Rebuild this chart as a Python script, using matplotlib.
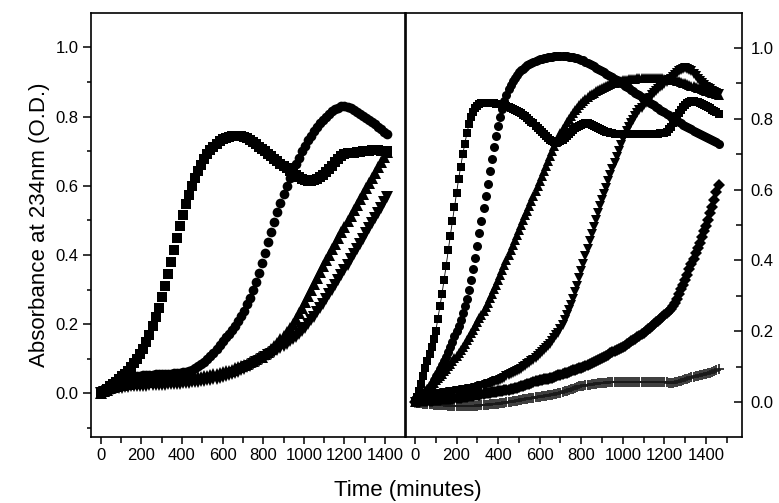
import numpy as np
import matplotlib
matplotlib.use("Agg")
import matplotlib.pyplot as plt
from matplotlib.ticker import MultipleLocator, FormatStrFormatter

plt.rcParams['font.family'] = ['Liberation Sans', 'DejaVu Sans']

# ---------------- left panel: sampled every 15 min ----------------
t_left = np.arange(0, 1425, 15)

left_squares = [
    0.000, 0.006, 0.013, 0.020, 0.027, 0.034, 0.041, 0.049, 0.057, 0.066,
    0.076, 0.087, 0.099, 0.113, 0.129, 0.148, 0.170, 0.194, 0.220, 0.248,
    0.278, 0.310, 0.344, 0.380, 0.415, 0.450, 0.484, 0.516, 0.546, 0.574,
    0.599, 0.622, 0.643, 0.661, 0.677, 0.691, 0.703, 0.713, 0.722, 0.729,
    0.735, 0.739, 0.742, 0.744, 0.745, 0.745, 0.744, 0.742, 0.738, 0.733,
    0.727, 0.720, 0.713, 0.706, 0.699, 0.692, 0.685, 0.678, 0.671, 0.664,
    0.657, 0.650, 0.643, 0.636, 0.630, 0.624, 0.620, 0.617, 0.615, 0.615,
    0.617, 0.620, 0.625, 0.631, 0.639, 0.648, 0.658, 0.668, 0.678, 0.686,
    0.691, 0.694, 0.695, 0.696, 0.697, 0.698, 0.699, 0.700, 0.701, 0.702,
    0.702, 0.702, 0.701, 0.700, 0.700]

left_circles = [
    0.000, 0.008, 0.015, 0.021, 0.026, 0.031, 0.035, 0.039, 0.042, 0.045,
    0.047, 0.049, 0.050, 0.051, 0.052, 0.053, 0.054, 0.054, 0.055, 0.055,
    0.056, 0.056, 0.057, 0.057, 0.058, 0.059, 0.060, 0.061, 0.063, 0.066,
    0.069, 0.073, 0.078, 0.084, 0.091, 0.099, 0.108, 0.118, 0.129, 0.140,
    0.151, 0.162, 0.173, 0.184, 0.196, 0.209, 0.223, 0.239, 0.257, 0.277,
    0.299, 0.323, 0.349, 0.377, 0.406, 0.436, 0.466, 0.495, 0.523, 0.550,
    0.575, 0.599, 0.621, 0.642, 0.662, 0.681, 0.699, 0.716, 0.731, 0.745,
    0.758, 0.770, 0.781, 0.791, 0.800, 0.808, 0.815, 0.821, 0.826, 0.829,
    0.830, 0.828, 0.824, 0.819, 0.814, 0.808, 0.802, 0.796, 0.790, 0.784,
    0.777, 0.770, 0.763, 0.756, 0.749]

left_tri_up = [
    0.000, 0.006, 0.011, 0.015, 0.018, 0.021, 0.023, 0.025, 0.027, 0.028,
    0.029, 0.030, 0.031, 0.032, 0.033, 0.034, 0.034, 0.035, 0.036, 0.036,
    0.037, 0.038, 0.038, 0.039, 0.040, 0.041, 0.041, 0.042, 0.043, 0.044,
    0.045, 0.046, 0.047, 0.048, 0.050, 0.051, 0.053, 0.055, 0.057, 0.059,
    0.061, 0.064, 0.066, 0.069, 0.072, 0.075, 0.078, 0.082, 0.086, 0.090,
    0.094, 0.099, 0.104, 0.106, 0.113, 0.121, 0.128, 0.137, 0.147, 0.157,
    0.167, 0.177, 0.188, 0.201, 0.215, 0.231, 0.248, 0.265, 0.282, 0.299,
    0.316, 0.333, 0.350, 0.367, 0.384, 0.401, 0.417, 0.433, 0.449, 0.465,
    0.481, 0.497, 0.513, 0.529, 0.545, 0.561, 0.577, 0.593, 0.608, 0.623,
    0.638, 0.653, 0.668, 0.683, 0.698]

left_tri_down = [
    0.000, 0.004, 0.008, 0.011, 0.013, 0.015, 0.016, 0.017, 0.018, 0.019,
    0.020, 0.020, 0.021, 0.021, 0.022, 0.022, 0.023, 0.023, 0.024, 0.024,
    0.025, 0.025, 0.026, 0.026, 0.027, 0.028, 0.028, 0.029, 0.030, 0.031,
    0.032, 0.033, 0.034, 0.035, 0.036, 0.038, 0.039, 0.041, 0.043, 0.045,
    0.047, 0.050, 0.053, 0.056, 0.059, 0.063, 0.067, 0.071, 0.075, 0.080,
    0.085, 0.090, 0.095, 0.100, 0.105, 0.110, 0.115, 0.120, 0.125, 0.131,
    0.137, 0.143, 0.150, 0.157, 0.164, 0.172, 0.181, 0.190, 0.200, 0.211,
    0.222, 0.234, 0.246, 0.259, 0.272, 0.286, 0.300, 0.314, 0.328, 0.342,
    0.357, 0.372, 0.387, 0.402, 0.417, 0.432, 0.447, 0.462, 0.477, 0.492,
    0.507, 0.522, 0.537, 0.552, 0.567]

# ---------------- right panel: sampled every 10 min ----------------
t_right = np.arange(0, 1470, 10)

right_squares = [
    0.000, 0.015, 0.032, 0.052, 0.074, 0.095, 0.115, 0.135, 0.155, 0.177,
    0.200, 0.235, 0.270, 0.305, 0.345, 0.385, 0.428, 0.470, 0.510, 0.550,
    0.590, 0.630, 0.665, 0.700, 0.730, 0.760, 0.785, 0.805, 0.820, 0.830,
    0.837, 0.841, 0.844, 0.845, 0.845, 0.845, 0.845, 0.844, 0.844, 0.843,
    0.843, 0.842, 0.840, 0.838, 0.836, 0.834, 0.832, 0.829, 0.826, 0.823,
    0.820, 0.816, 0.812, 0.807, 0.802, 0.797, 0.792, 0.787, 0.781, 0.775,
    0.769, 0.763, 0.757, 0.751, 0.746, 0.741, 0.737, 0.734, 0.733, 0.734,
    0.736, 0.740, 0.745, 0.751, 0.757, 0.763, 0.768, 0.773, 0.777, 0.781,
    0.784, 0.786, 0.787, 0.787, 0.786, 0.784, 0.781, 0.778, 0.775, 0.772,
    0.769, 0.766, 0.764, 0.762, 0.760, 0.759, 0.758, 0.757, 0.757, 0.757,
    0.757, 0.757, 0.757, 0.757, 0.757, 0.757, 0.757, 0.757, 0.757, 0.757,
    0.757, 0.757, 0.757, 0.757, 0.757, 0.757, 0.758, 0.758, 0.759, 0.759,
    0.760, 0.764, 0.770, 0.778, 0.787, 0.797, 0.807, 0.817, 0.826, 0.834,
    0.840, 0.845, 0.848, 0.850, 0.850, 0.849, 0.847, 0.845, 0.842, 0.839,
    0.836, 0.833, 0.830, 0.826, 0.822, 0.818, 0.815]

right_circles = [
    0.000, 0.005, 0.010, 0.015, 0.020, 0.025, 0.033, 0.042, 0.052, 0.062,
    0.072, 0.082, 0.093, 0.104, 0.115, 0.127, 0.140, 0.155, 0.170, 0.185,
    0.200, 0.215, 0.232, 0.250, 0.270, 0.292, 0.317, 0.345, 0.375, 0.408,
    0.442, 0.477, 0.512, 0.547, 0.582, 0.617, 0.652, 0.687, 0.720, 0.752,
    0.780, 0.805, 0.828, 0.850, 0.868, 0.883, 0.896, 0.907, 0.916, 0.924,
    0.931, 0.937, 0.942, 0.947, 0.951, 0.955, 0.958, 0.961, 0.964, 0.966,
    0.968, 0.970, 0.972, 0.973, 0.974, 0.975, 0.976, 0.977, 0.977, 0.978,
    0.978, 0.978, 0.977, 0.977, 0.976, 0.975, 0.974, 0.973, 0.971, 0.969,
    0.967, 0.965, 0.962, 0.959, 0.956, 0.952, 0.948, 0.944, 0.940, 0.937,
    0.935, 0.932, 0.928, 0.925, 0.922, 0.918, 0.914, 0.910, 0.906, 0.902,
    0.898, 0.894, 0.890, 0.886, 0.882, 0.878, 0.874, 0.870, 0.866, 0.862,
    0.858, 0.854, 0.850, 0.846, 0.842, 0.838, 0.834, 0.830, 0.826, 0.822,
    0.818, 0.814, 0.810, 0.806, 0.802, 0.798, 0.794, 0.791, 0.787, 0.784,
    0.780, 0.777, 0.774, 0.770, 0.767, 0.764, 0.761, 0.758, 0.755, 0.752,
    0.750, 0.747, 0.744, 0.741, 0.738, 0.734, 0.730]

right_tri_up = [
    0.000, 0.007, 0.013, 0.019, 0.025, 0.031, 0.037, 0.043, 0.049, 0.055,
    0.061, 0.067, 0.073, 0.080, 0.087, 0.094, 0.101, 0.108, 0.115, 0.123,
    0.131, 0.139, 0.147, 0.156, 0.165, 0.174, 0.184, 0.194, 0.204, 0.214,
    0.225, 0.236, 0.247, 0.258, 0.269, 0.281, 0.293, 0.305, 0.318, 0.331,
    0.345, 0.359, 0.373, 0.387, 0.401, 0.415, 0.429, 0.443, 0.457, 0.471,
    0.485, 0.499, 0.513, 0.527, 0.541, 0.555, 0.569, 0.583, 0.597, 0.611,
    0.625, 0.639, 0.653, 0.667, 0.681, 0.695, 0.709, 0.722, 0.735, 0.747,
    0.759, 0.770, 0.781, 0.791, 0.800, 0.809, 0.817, 0.825, 0.832, 0.839,
    0.845, 0.851, 0.856, 0.861, 0.866, 0.870, 0.874, 0.878, 0.882, 0.885,
    0.888, 0.891, 0.894, 0.896, 0.898, 0.900, 0.902, 0.904, 0.906, 0.908,
    0.909, 0.910, 0.911, 0.912, 0.913, 0.914, 0.914, 0.915, 0.915, 0.916,
    0.916, 0.916, 0.916, 0.916, 0.916, 0.916, 0.916, 0.916, 0.915, 0.915,
    0.914, 0.913, 0.912, 0.911, 0.910, 0.909, 0.908, 0.906, 0.904, 0.902,
    0.900, 0.898, 0.896, 0.894, 0.892, 0.890, 0.888, 0.886, 0.884, 0.882,
    0.880, 0.878, 0.876, 0.874, 0.872, 0.870, 0.868]

right_tri_down = [
    0.000, 0.003, 0.006, 0.009, 0.011, 0.013, 0.015, 0.017, 0.018, 0.019,
    0.020, 0.021, 0.022, 0.023, 0.024, 0.025, 0.026, 0.027, 0.028, 0.029,
    0.030, 0.031, 0.032, 0.033, 0.034, 0.035, 0.036, 0.037, 0.038, 0.039,
    0.040, 0.042, 0.044, 0.046, 0.048, 0.050, 0.052, 0.054, 0.056, 0.058,
    0.060, 0.063, 0.066, 0.069, 0.072, 0.075, 0.078, 0.081, 0.084, 0.087,
    0.090, 0.094, 0.098, 0.102, 0.106, 0.110, 0.115, 0.120, 0.125, 0.130,
    0.135, 0.141, 0.147, 0.153, 0.159, 0.165, 0.172, 0.180, 0.188, 0.196,
    0.205, 0.218, 0.232, 0.246, 0.260, 0.275, 0.292, 0.310, 0.329, 0.349,
    0.370, 0.391, 0.412, 0.433, 0.454, 0.475, 0.495, 0.515, 0.535, 0.553,
    0.570, 0.588, 0.606, 0.624, 0.641, 0.658, 0.675, 0.692, 0.709, 0.726,
    0.742, 0.755, 0.767, 0.778, 0.788, 0.798, 0.807, 0.816, 0.824, 0.832,
    0.839, 0.846, 0.853, 0.860, 0.866, 0.872, 0.878, 0.884, 0.889, 0.894,
    0.899, 0.904, 0.909, 0.914, 0.919, 0.924, 0.929, 0.934, 0.939, 0.942,
    0.943, 0.942, 0.939, 0.934, 0.928, 0.921, 0.914, 0.907, 0.901, 0.896,
    0.891, 0.887, 0.883, 0.879, 0.876, 0.873, 0.870]

right_diamonds = [
    0.000, 0.001, 0.001, 0.002, 0.002, 0.003, 0.003, 0.004, 0.004, 0.005,
    0.005, 0.006, 0.006, 0.007, 0.007, 0.008, 0.008, 0.009, 0.009, 0.010,
    0.010, 0.011, 0.012, 0.013, 0.014, 0.015, 0.016, 0.017, 0.018, 0.019,
    0.020, 0.021, 0.022, 0.023, 0.024, 0.025, 0.026, 0.027, 0.028, 0.029,
    0.030, 0.031, 0.032, 0.033, 0.034, 0.035, 0.036, 0.037, 0.039, 0.040,
    0.042, 0.044, 0.046, 0.048, 0.050, 0.052, 0.054, 0.056, 0.058, 0.060,
    0.062, 0.063, 0.064, 0.065, 0.066, 0.067, 0.069, 0.071, 0.073, 0.075,
    0.077, 0.079, 0.081, 0.083, 0.085, 0.087, 0.089, 0.091, 0.093, 0.095,
    0.097, 0.099, 0.101, 0.104, 0.107, 0.110, 0.113, 0.116, 0.119, 0.122,
    0.125, 0.128, 0.131, 0.134, 0.137, 0.140, 0.143, 0.146, 0.149, 0.152,
    0.155, 0.159, 0.163, 0.167, 0.171, 0.175, 0.179, 0.183, 0.187, 0.191,
    0.195, 0.200, 0.205, 0.210, 0.215, 0.220, 0.225, 0.230, 0.235, 0.240,
    0.245, 0.250, 0.256, 0.262, 0.270, 0.280, 0.292, 0.305, 0.318, 0.331,
    0.345, 0.360, 0.375, 0.390, 0.405, 0.420, 0.435, 0.450, 0.466, 0.482,
    0.498, 0.515, 0.533, 0.552, 0.572, 0.592, 0.612]

right_crosses = [
    0.000, -0.002, -0.003, -0.004, -0.005, -0.006, -0.006, -0.007, -0.007, -0.008,
    -0.008, -0.008, -0.009, -0.009, -0.009, -0.009, -0.010, -0.010, -0.010, -0.010,
    -0.010, -0.010, -0.010, -0.010, -0.010, -0.010, -0.010, -0.010, -0.010, -0.010,
    -0.010, -0.009, -0.009, -0.009, -0.008, -0.008, -0.007, -0.007, -0.006, -0.006,
    -0.005, -0.004, -0.003, -0.002, -0.001, 0.000, 0.001, 0.002, 0.003, 0.004,
    0.005, 0.006, 0.007, 0.008, 0.009, 0.010, 0.011, 0.012, 0.013, 0.014,
    0.015, 0.016, 0.017, 0.018, 0.019, 0.020, 0.021, 0.022, 0.023, 0.024,
    0.026, 0.028, 0.030, 0.032, 0.034, 0.036, 0.038, 0.040, 0.042, 0.044,
    0.045, 0.046, 0.047, 0.048, 0.049, 0.050, 0.051, 0.052, 0.053, 0.054,
    0.055, 0.055, 0.055, 0.056, 0.056, 0.056, 0.056, 0.056, 0.056, 0.056,
    0.056, 0.056, 0.056, 0.056, 0.056, 0.056, 0.056, 0.056, 0.056, 0.056,
    0.056, 0.056, 0.056, 0.056, 0.056, 0.056, 0.056, 0.056, 0.056, 0.056,
    0.056, 0.056, 0.055, 0.055, 0.055, 0.056, 0.057, 0.058, 0.060, 0.062,
    0.064, 0.066, 0.068, 0.070, 0.071, 0.073, 0.074, 0.076, 0.077, 0.079,
    0.080, 0.082, 0.083, 0.085, 0.087, 0.089, 0.092]

x_ticks = [0, 200, 400, 600, 800, 1000, 1200, 1400]
y_ticks = [0.0, 0.2, 0.4, 0.6, 0.8, 1.0]


def style_axis(ax, side):
    ax.set_xticks(x_ticks)
    ax.xaxis.set_minor_locator(MultipleLocator(100))
    ax.set_yticks(y_ticks)
    ax.yaxis.set_minor_locator(MultipleLocator(0.1))
    ax.yaxis.set_major_formatter(FormatStrFormatter('%.1f'))
    for sp in ax.spines.values():
        sp.set_linewidth(1.2)
    ax.tick_params(axis='x', which='major', direction='out', length=5,
                   width=1.1, labelsize=12, pad=3)
    ax.tick_params(axis='x', which='minor', direction='out', length=4,
                   width=1.1)
    if side == 'left':
        ax.tick_params(axis='y', which='major', direction='out', length=6,
                       width=1.1, labelsize=12, pad=3)
        ax.tick_params(axis='y', which='minor', direction='out', length=3,
                       width=1.1)
    else:
        ax.yaxis.tick_right()
        ax.tick_params(axis='y', which='major', direction='in', length=6,
                       width=1.1, labelsize=12, pad=6)
        ax.tick_params(axis='y', which='minor', direction='in', length=4,
                       width=1.1)


fig = plt.figure(figsize=(7.79, 5.03), dpi=100)
ax1 = fig.add_axes([0.1168, 0.1312, 0.4031, 0.8429])
ax2 = fig.add_axes([0.5212, 0.1312, 0.4313, 0.8429])

# left panel
ax1.plot(t_left, left_tri_down, 'v', color='black', ms=8, mew=0)
ax1.plot(t_left, left_tri_up, '^', color='black', ms=8, mew=0)
ax1.plot(t_left, left_circles, 'o', color='black', ms=7, mew=0)
ax1.plot(t_left, left_squares, 's', color='black', ms=6.5, mew=0)
ax1.set_xlim(-48, 1498)
ax1.set_ylim(-0.126, 1.099)
style_axis(ax1, 'left')
ax1.set_ylabel('Absorbance at 234nm (O.D.)', fontsize=16, labelpad=4)

# right panel
ax2.plot(t_right, right_crosses, '+', color='0.1', ms=7, mew=1.2)
ax2.plot(t_right, right_diamonds, 'D', color='black', ms=6.5, mew=0)
ax2.plot(t_right, right_tri_down, 'v', color='black', ms=7.5, mew=0)
ax2.plot(t_right, right_tri_up, '^', color='black', ms=7.5, mew=0)
ax2.plot(t_right, right_circles, 'o', color='black', ms=6.5, mew=0)
ax2.plot(t_right, right_squares, 's-', color='black', ms=5.5, mew=0, lw=0.6)
ax2.set_xlim(-43, 1573)
ax2.set_ylim(-0.099, 1.099)
style_axis(ax2, 'right')

fig.text(0.523, 0.024, 'Time (minutes)', fontsize=16, ha='center', va='center')

fig.savefig('out.png', dpi=100)
